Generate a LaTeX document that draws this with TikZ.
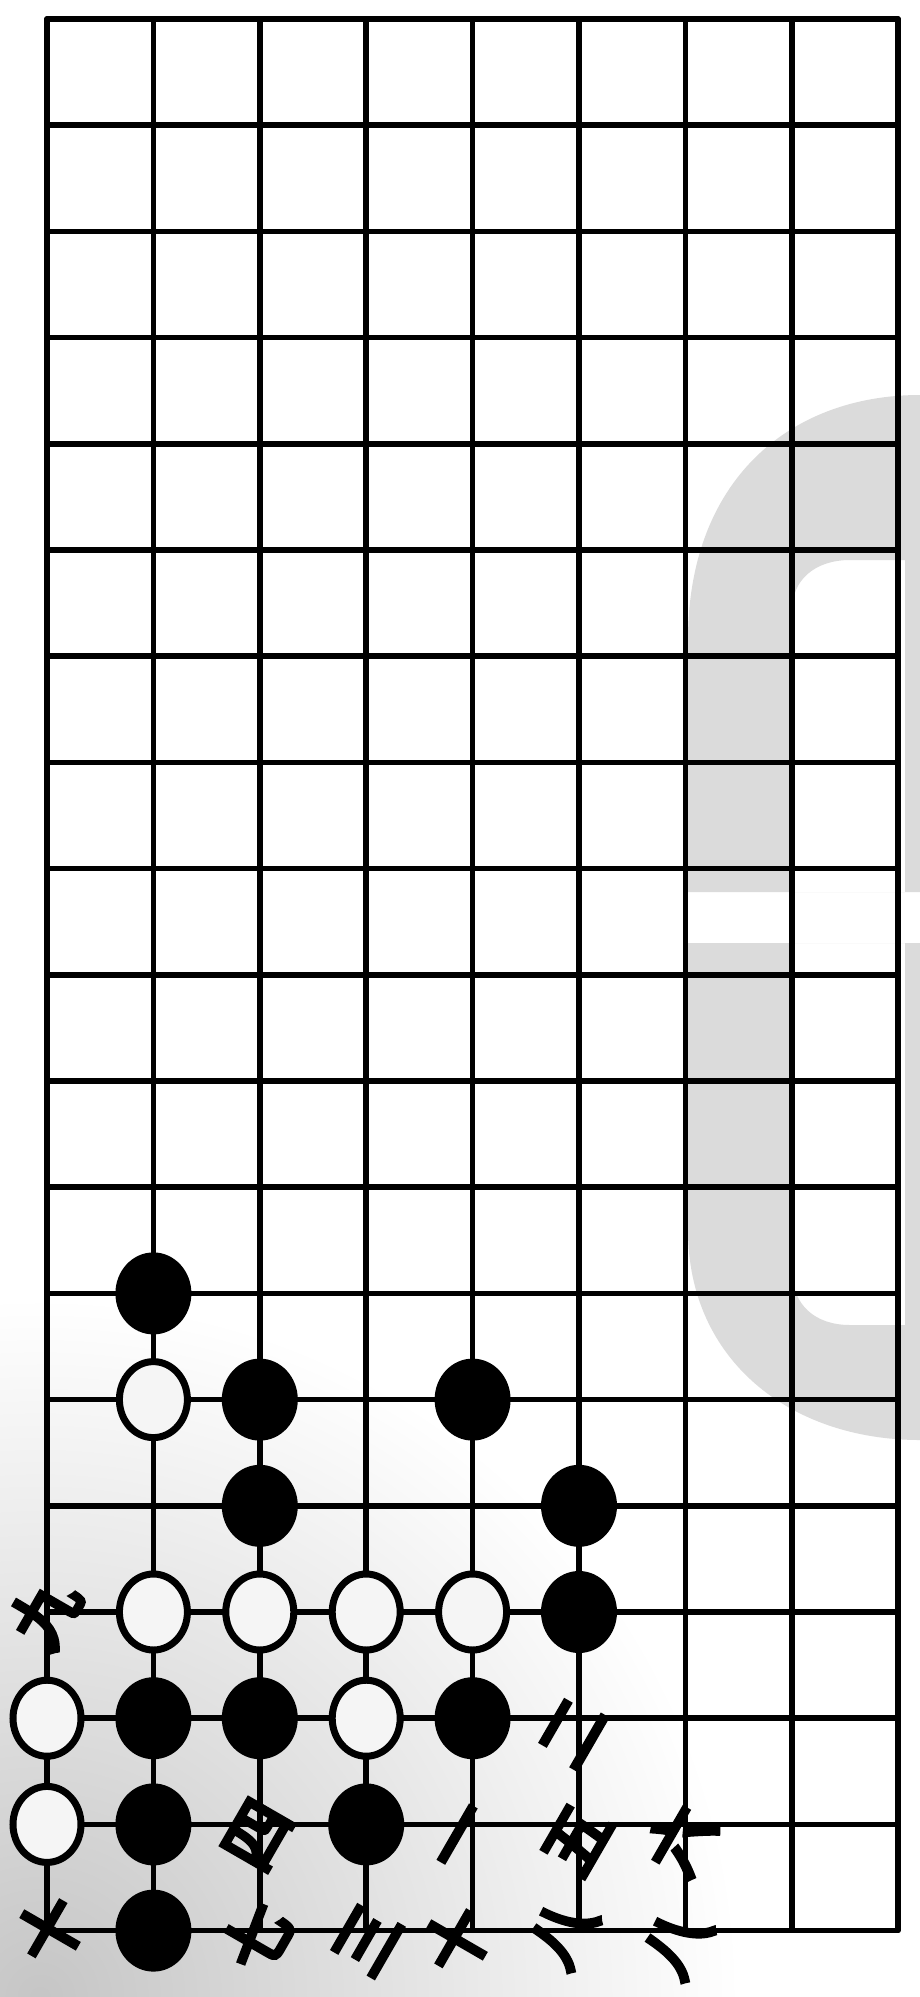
\documentclass[tikz,border=0pt]{standalone}
\usepackage{fontspec}
\newfontfamily\cjk[FakeBold=7]{Noto Sans CJK SC}
\usetikzlibrary{shapes.geometric}
\definecolor{wm}{HTML}{DBDBDB}
\tikzset{
  gridline/.style={line width=5.5pt, black, line cap=round},
  bstone/.style={ellipse, fill=black, minimum width=76pt, minimum height=82pt, inner sep=0pt},
  wstone/.style={ellipse, draw=black, line width=7pt, fill=white!92!gray, minimum width=68pt, minimum height=76pt, inner sep=0pt},
  numlabel/.style={font=\cjk\fontsize{66}{66}\selectfont, rotate=60, inner sep=0pt, text=black}
}
\begin{document}
\begin{tikzpicture}[x=1pt,y=-1pt]
\fill[white] (0,0) rectangle (920,1997);
\useasboundingbox (0,0) rectangle (920,1997);
% scan tint at bottom left
\begin{scope}
  \clip (0,0) rectangle (920,1997);
  \shade[inner color=gray!45, outer color=white] (40,1997) circle (700);
\end{scope}
% watermark
\fill[wm, even odd rule]
  (920,395) .. controls (790,395) and (688,480) .. (688,640) -- (688,892) -- (920,892) -- cycle
  (792,892) -- (792,610) .. controls (792,580) and (815,560) .. (850,560) -- (905,560) -- (905,892) -- cycle;
\fill[wm, even odd rule]
  (688,943) -- (688,1230) .. controls (688,1360) and (790,1440) .. (920,1440) -- (920,943) -- cycle
  (792,943) -- (792,1270) .. controls (792,1305) and (815,1325) .. (850,1325) -- (905,1325) -- (905,943) -- cycle;
% grid
\foreach \c in {0,...,8} {
  \draw[gridline] ({47+106.4*\c},19) -- ({47+106.4*\c},1930);
}
\foreach \r in {0,...,18} {
  \draw[gridline] (47,{19+106.2*\r}) -- (898,{19+106.2*\r});
}
% black stones
\foreach \c/\r [count=\i] in {1/12,2/13,4/13,2/14,5/14,5/15,1/16,2/16,4/16,1/17,3/17,1/18} {
  \node[bstone] (b\i) at ({47+106.4*\c},{19+106.2*\r}) {};
}
% white stones
\foreach \c/\r [count=\i] in {1/13,1/15,2/15,3/15,4/15,0/16,3/16,0/17} {
  \node[wstone] (w\i) at ({47+106.4*\c},{19+106.2*\r}) {};
}
% move numbers
\node[numlabel] (n9) at (45,1612) {九};
\node[numlabel] (n10) at (50,1930) {十};
\node[numlabel] (n4) at (258,1835) {四};
\node[numlabel] (n7) at (257,1937) {七};
\node[numlabel] (n3) at (367,1940) {三};
\node[numlabel] (n1) at (467,1840) {一};
\node[numlabel] (nx) at (457,1940) {十};
\node[numlabel] (n2) at (573,1733) {二};
\node[numlabel] (n5) at (577,1840) {五};
\node[numlabel] (n8) at (563,1933) {八};
\node[numlabel] (n6) at (680,1840) {六};
\node[numlabel] (ny) at (677,1943) {八};
\end{tikzpicture}
\end{document}
